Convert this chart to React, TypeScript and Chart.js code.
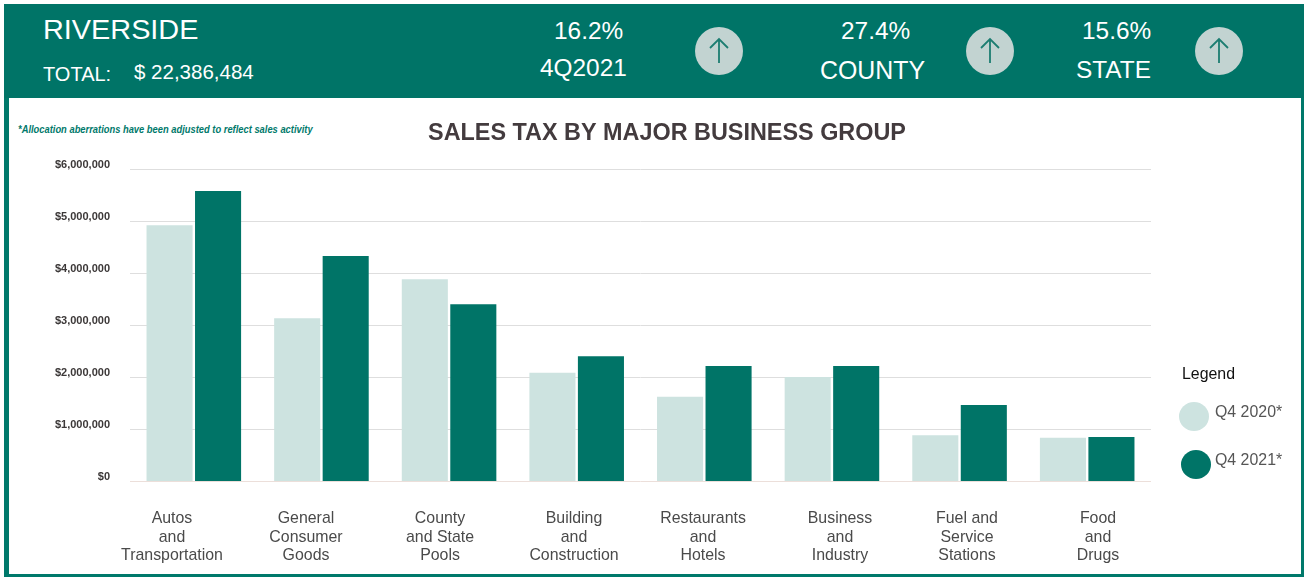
import React, { useEffect, useRef } from "react";
import { Chart, registerables } from "chart.js";

Chart.register(...registerables);

const categories: string[][] = [
  ["Autos", "and", "Transportation"],
  ["General", "Consumer", "Goods"],
  ["County", "and State", "Pools"],
  ["Building", "and", "Construction"],
  ["Restaurants", "and", "Hotels"],
  ["Business", "and", "Industry"],
  ["Fuel and", "Service", "Stations"],
  ["Food", "and", "Drugs"],
];
const q42020 = [4930000, 3140000, 3890000, 2090000, 1630000, 2010000, 890000, 840000];
const q42021 = [5590000, 4340000, 3410000, 2410000, 2220000, 2220000, 1470000, 855000];
const yTicks = [0, 1000000, 2000000, 3000000, 4000000, 5000000, 6000000];
const seriesNames = ["Q4 2020*", "Q4 2021*"];

const GREEN = "#00796b";
const DARK_BAR = "#007467";
const LIGHT_BAR = "#cde3e0";
const SANS = '"Liberation Sans", Arial, sans-serif';

// Pixel centres of the x labels, which in the source are not aligned to the bars.
const labelCentres = [172, 306, 440, 574, 703, 840, 967, 1098];
const PLOT_LEFT = 130;
const PLOT_RIGHT = 1151;

function T(p: { x: number; y: number; size: number; color?: string; children: React.ReactNode; extra?: React.CSSProperties; sx?: number }) {
  return (
    <div
      style={{
        position: "absolute",
        left: p.x,
        top: p.y,
        transform: `translateY(-50%) scaleX(${p.sx ?? 1})`,
        transformOrigin: "left center",
        fontFamily: SANS,
        fontSize: p.size,
        lineHeight: 1,
        whiteSpace: "nowrap",
        color: p.color || "#fff",
        ...p.extra,
      }}
    >
      {p.children}
    </div>
  );
}

function ArrowBadge({ x }: { x: number }) {
  return (
    <svg style={{ position: "absolute", left: x, top: 27 }} width={48} height={48} viewBox="0 0 48 48">
      <circle cx={24} cy={24} r={24} fill="#c2d3d1" />
      <path d="M24 36 V12 M15 21 L24 12 L33 21" fill="none" stroke="#1c7d71" strokeWidth={1.8} />
    </svg>
  );
}

function Dot({ x, y, color }: { x: number; y: number; color: string }) {
  return <div style={{ position: "absolute", left: x, top: y, width: 30, height: 29, borderRadius: "50%", background: color }} />;
}

export default function App() {
  const ref = useRef<HTMLCanvasElement>(null);
  useEffect(() => {
    const chart = new Chart(ref.current!, {
      type: "bar",
      data: {
        labels: categories.map((c) => c.join(" ")),
        datasets: [
          { label: seriesNames[0], data: q42020, backgroundColor: LIGHT_BAR, barPercentage: 0.95, categoryPercentage: 0.76 },
          { label: seriesNames[1], data: q42021, backgroundColor: DARK_BAR, barPercentage: 0.95, categoryPercentage: 0.76 },
        ],
      },
      options: {
        animation: false,
        responsive: false,
        layout: { padding: { left: 0, right: 0, top: 22, bottom: 0 } },
        plugins: {
          legend: { display: false },
          tooltip: { enabled: false },
          title: {
            display: true,
            text: "SALES TAX BY MAJOR BUSINESS GROUP",
            color: "#433b3e",
            font: { family: SANS, size: 23.4, weight: "bold" },
            padding: { top: 0, bottom: 21.5 },
          },
        },
        scales: {
          x: {
            grid: { display: false },
            border: { display: false },
            ticks: { display: false },
            afterFit: (s: any) => { s.height = 0; },
          },
          labelAxis: {
            type: "linear",
            position: "bottom",
            offset: false,
            min: PLOT_LEFT,
            max: PLOT_RIGHT,
            grid: { display: false, drawTicks: false },
            border: { display: false },
            afterBuildTicks: (s: any) => { s.ticks = labelCentres.map((value) => ({ value })); },
            afterFit: (s: any) => { s.height = 95.5; },
            ticks: {
              autoSkip: false,
              maxRotation: 0,
              padding: 28,
              color: "#4a4a4a",
              font: { family: SANS, size: 15.9, lineHeight: 1.165 },
              callback: (v: any) => categories[labelCentres.indexOf(Number(v))],
            },
          },
          y: {
            min: 0,
            max: 6000000,
            grid: {
              color: (c: any) => (c.tick && c.tick.value === 0 ? "#ecdfda" : "#dedede"),
              lineWidth: 1,
              drawTicks: false,
            },
            border: { display: false },
            afterBuildTicks: (s: any) => { s.ticks = yTicks.map((value) => ({ value })); },
            afterFit: (s: any) => { s.width = 101; },
            ticks: {
              padding: 20,
              labelOffset: -4.5,
              color: "#3c3838",
              font: { family: SANS, size: 11, weight: "bold" },
              callback: (v: any) => "$" + Number(v).toLocaleString("en-US"),
            },
          },
          legendGutter: {
            type: "linear",
            position: "right",
            grid: { display: false, drawTicks: false },
            border: { display: false },
            ticks: { display: false },
            afterFit: (s: any) => { s.width = 154; },
          },
        },
      },
    } as any);
    return () => chart.destroy();
  }, []);

  return (
    <div style={{ position: "fixed", left: 0, top: 0, width: 1305, height: 577, overflow: "hidden", background: "#fff" }}>
      <div style={{ position: "absolute", left: 4, top: 4, width: 1300, height: 573, boxSizing: "border-box", borderLeft: `5px solid ${GREEN}`, borderRight: `3px solid ${GREEN}`, borderBottom: `3px solid ${GREEN}` }} />
      <div style={{ position: "absolute", left: 4, top: 4, width: 1300, height: 94, background: "#007467" }} />
      <T x={43} y={30} size={27.6} sx={1.045}>RIVERSIDE</T>
      <T x={43} y={74} size={20}>TOTAL:</T>
      <T x={134} y={72} size={20.5}>$ 22,386,484</T>
      <T x={554} y={31} size={24.4}>16.2%</T>
      <T x={540} y={68} size={24.4}>4Q2021</T>
      <T x={841} y={31} size={24.4}>27.4%</T>
      <T x={820} y={70} size={24.9}>COUNTY</T>
      <T x={1082} y={31} size={24.4}>15.6%</T>
      <T x={1076} y={70} size={24.4}>STATE</T>
      <ArrowBadge x={695} />
      <ArrowBadge x={966} />
      <ArrowBadge x={1195} />
      <T x={18} y={129} size={11} color={GREEN} sx={0.85} extra={{ fontStyle: "italic", fontWeight: 700 }}>
        *Allocation aberrations have been adjusted to reflect sales activity
      </T>
      <canvas ref={ref} width={1276} height={479} style={{ position: "absolute", left: 29, top: 98, width: 1276, height: 479 }} />
      <T x={1182} y={374} size={15.9} color="#111">Legend</T>
      <Dot x={1179} y={402} color={LIGHT_BAR} />
      <Dot x={1181} y={450} color={DARK_BAR} />
      <T x={1215} y={412} size={15.9} color="#555">{seriesNames[0]}</T>
      <T x={1215} y={460} size={15.9} color="#555">{seriesNames[1]}</T>
    </div>
  );
}
